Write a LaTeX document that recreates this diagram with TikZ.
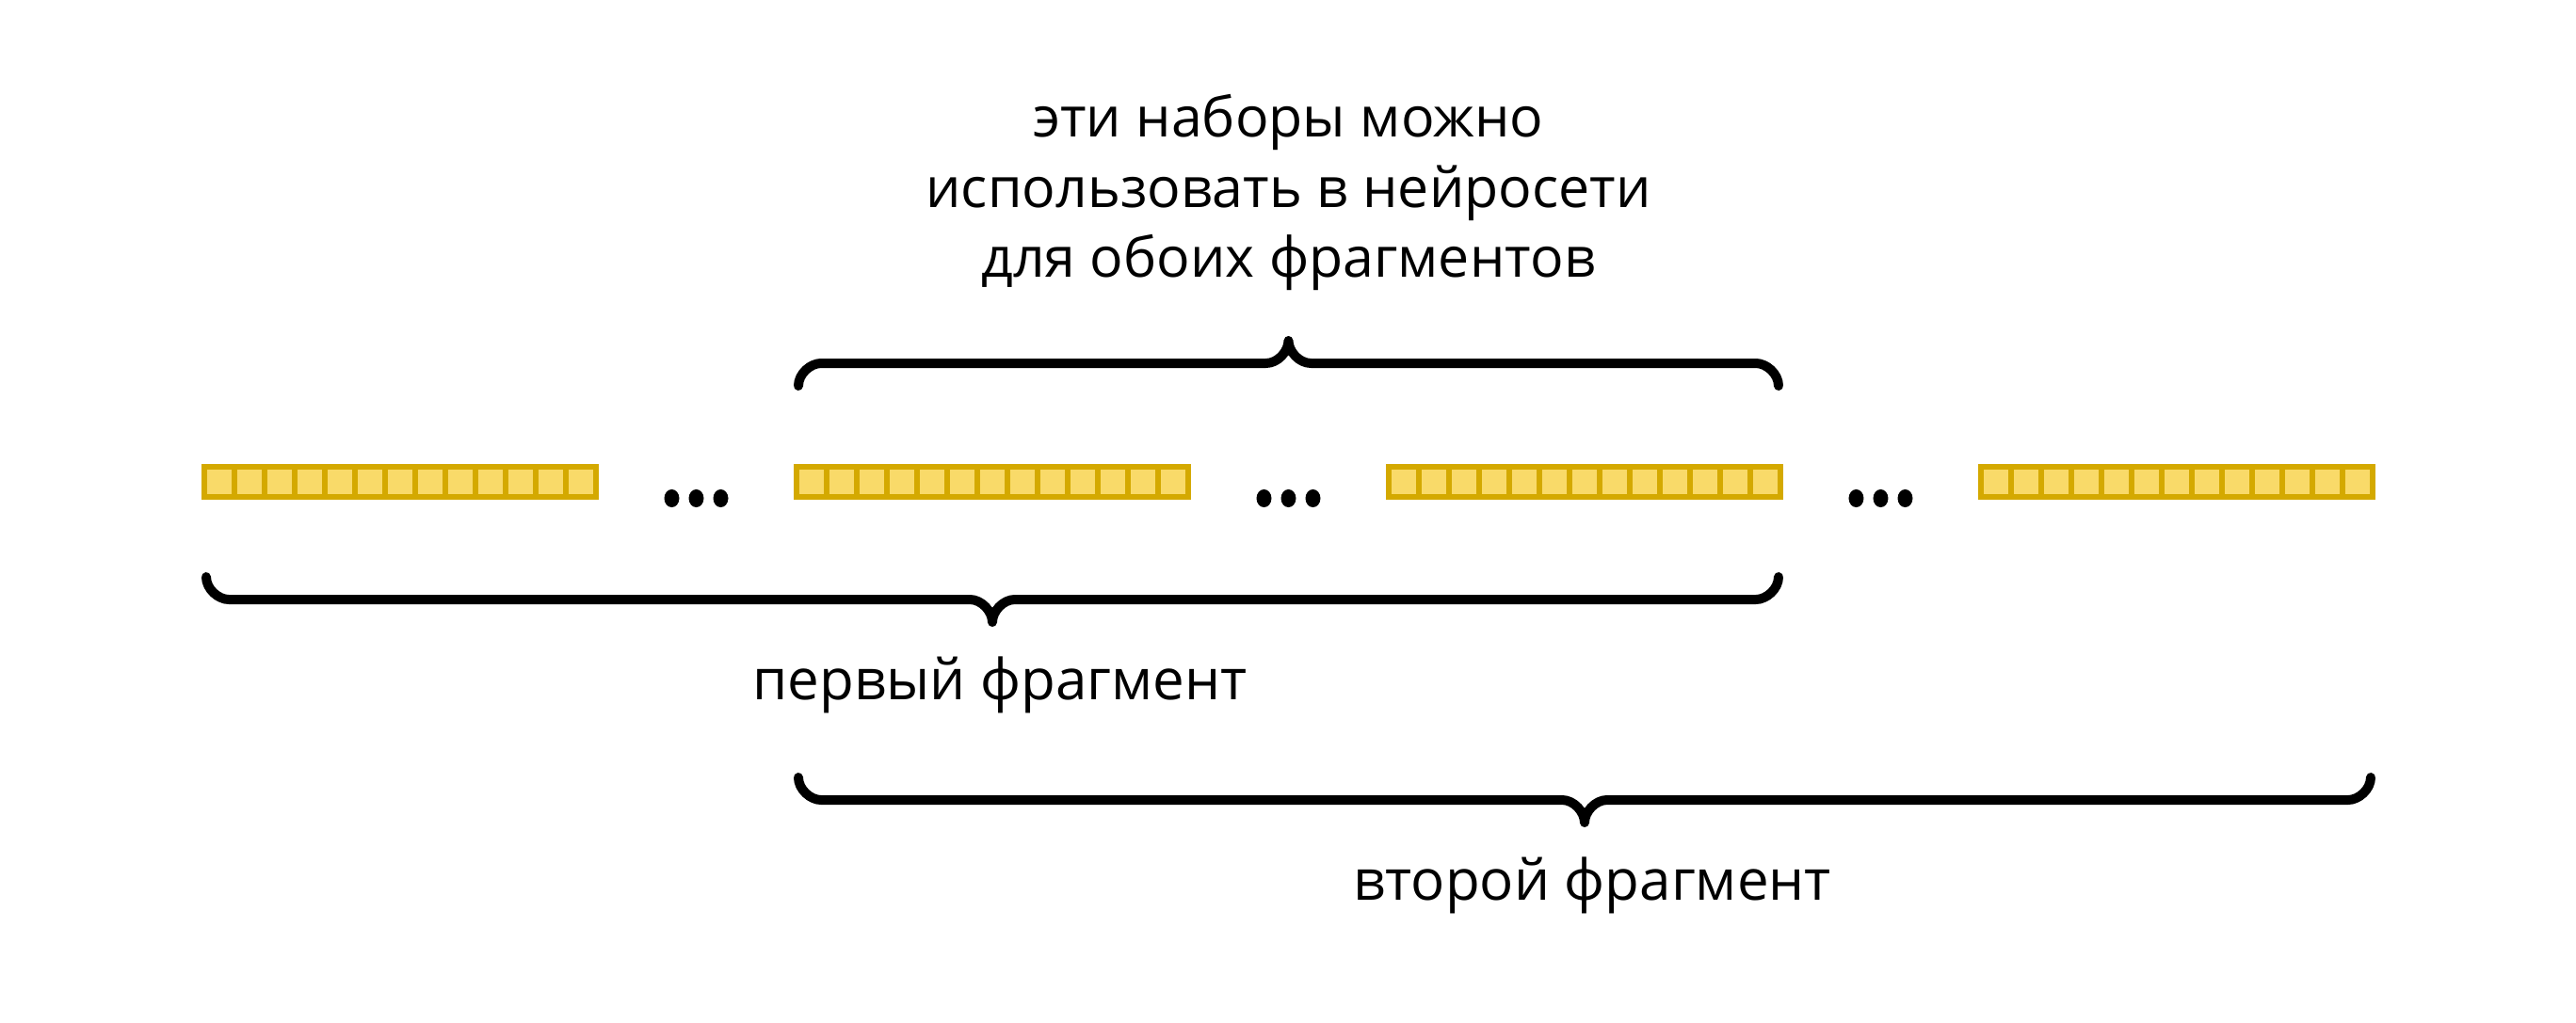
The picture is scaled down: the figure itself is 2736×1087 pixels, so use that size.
\documentclass[tikz,border=0pt]{standalone}
\usepackage{fontspec}
\setmainfont{Open Sans}
\usetikzlibrary{positioning,calc}
\definecolor{cellgold}{HTML}{D4A900}
\definecolor{cellfill}{HTML}{F9DA69}

% horizontal curly brace from #1 to #2, #3 = 1 tip down, -1 tip up
\newcommand{\fragbrace}[3]{%
  \draw[brc] (#1) .. controls +(0,{13*#3}) and +(-11,0) .. ++(24,{24*#3})
    -- ($(#1)!.5!(#2)+(-24,{24*#3})$) .. controls +(13,0) and +(0,{-11*#3}) .. ($(#1)!.5!(#2)+(0,{48*#3})$)
    .. controls +(0,{-11*#3}) and +(-13,0) .. ($(#1)!.5!(#2)+(24,{24*#3})$)
    -- ($(#2)+(-24,{24*#3})$) .. controls +(11,0) and +(0,{13*#3}) .. (#2);}

\begin{document}
\begin{tikzpicture}[
  x=0.1mm, y=-0.1mm,
  node distance=21.3mm,
  strip/.style={draw=cellgold, fill=cellfill, line width=0.6mm, minimum width=41.6mm, minimum height=3.2mm, inner sep=0pt, outer sep=0pt},
  sep/.style={draw=cellgold, line width=0.6mm},
  brc/.style={draw=black, line width=1mm, line cap=round, line join=round},
  lbl/.style={inner sep=0pt, font=\fontsize{17.1}{21}\selectfont}
]
  \useasboundingbox (0,0) rectangle (2736,1087);

  \node[strip, anchor=west] (s1) at (217,512) {};
  \node[strip, right=of s1] (s2) {};
  \node[strip, right=of s2] (s3) {};
  \node[strip, right=of s3] (s4) {};

  % cell walls
  \foreach \s in {s1,s2,s3,s4}
    \foreach \k in {1,...,12}
      \draw[sep] ($(\s.south west)+(32*\k,0)$) -- ($(\s.north west)+(32*\k,0)$);

  % gaps with dots
  \coordinate (g1) at ($(s1.east)!.5!(s2.west)$);
  \coordinate (g2) at ($(s2.east)!.5!(s3.west)$);
  \coordinate (g3) at ($(s3.east)!.5!(s4.west)$);
  \foreach \g in {g1,g2,g3}
    \foreach \d in {-26,0,26}
      \fill (\g) ++(\d,17.5) ellipse [x radius=8, y radius=9.5];

  % brace ends
  \coordinate (topL) at ($(s2.north west)+(2,-86)$);
  \coordinate (topR) at ($(s3.north east)+(-2,-86)$);
  \coordinate (oneL) at ($(s1.south west)+(2,85)$);
  \coordinate (oneR) at ($(s3.south east)+(-2,85)$);
  \coordinate (twoL) at ($(s2.south west)+(2,298)$);
  \coordinate (twoR) at ($(s4.south east)+(-2,298)$);

  \fragbrace{topL}{topR}{-1}
  \fragbrace{oneL}{oneR}{1}
  \fragbrace{twoL}{twoR}{1}

  \node[inner sep=0pt, align=center, anchor=north, font=\fontsize{16.8}{21.2}\selectfont] (setslbl)
    at ($(topL)!.5!(topR)+(0,-310)$) {эти наборы можно\\использовать в нейросети\\для обоих фрагментов};
  \node[lbl, anchor=base] (onelbl) at ($(oneL)!.5!(oneR)+(8,130)$) {первый фрагмент};
  \node[lbl, anchor=base] (twolbl) at ($(twoL)!.5!(twoR)+(8,130)$) {второй фрагмент};
\end{tikzpicture}
\end{document}
